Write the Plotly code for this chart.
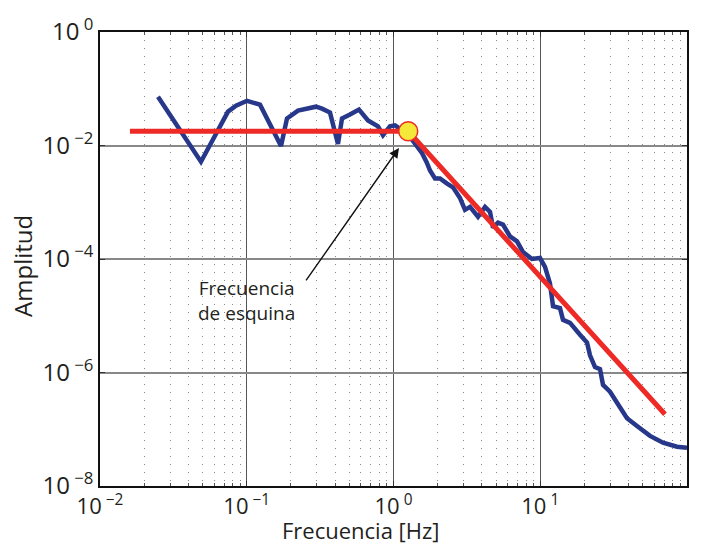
import plotly.graph_objects as go

# Espectro de amplitud observado (frecuencia en Hz, amplitud)
freq = [0.02484, 0.04876, 0.07451, 0.08447, 0.1004, 0.1231, 0.1712, 0.1880,
        0.2234, 0.2698, 0.2963, 0.3257, 0.3693, 0.4184, 0.4457, 0.5052,
        0.5819, 0.6703, 0.7841, 0.8481, 0.9465, 1.0237, 1.1074, 1.2553,
        1.4391, 1.5566, 1.6840, 1.7732, 1.9177, 2.0745, 2.3048, 2.5438,
        2.8395, 3.0708, 3.3208, 3.7650, 4.2030, 4.5467, 4.7643, 5.1532,
        5.5742, 6.2225, 6.9454, 7.6294, 8.7853, 9.9610, 10.775, 11.65,
        12.22, 13.63, 14.29, 15.95, 18.66, 20.83, 21.83, 23.61, 25.54,
        26.77, 29.87, 33.34, 36.64, 39.00, 45.63, 55.97, 68.63, 85.50, 100.0]
amp = [0.07197, 0.005179, 0.03958, 0.05028, 0.06137, 0.05231, 0.009801, 0.02993,
       0.04119, 0.04460, 0.04831, 0.0446, 0.03803, 0.01062, 0.02993, 0.0351,
       0.04285, 0.02764, 0.02176, 0.0152, 0.02176, 0.02265, 0.0193, 0.01582,
       0.009801, 0.007505, 0.005037, 0.003618, 0.00263, 0.00263, 0.002154, 0.001836,
       0.001185, 0.000734, 0.000827, 0.000555, 0.000827, 0.000678, 0.000358, 0.000437,
       0.000404, 0.00025, 0.000205, 0.000132, 0.0001, 0.000104, 7.27e-5, 3.69e-5,
       1.475e-5, 1.362e-5, 8.44e-6, 7.49e-6, 4.64e-6, 3.37e-6, 2.01e-6, 1.245e-6, 1.15e-6,
       6.07e-7, 4.59e-7, 2.85e-7, 2.07e-7, 1.566e-7, 1.138e-7, 7.64e-8, 5.78e-8, 4.93e-8, 4.73e-8]

# Modelo de fuente: nivel plano y caída por encima de la frecuencia de esquina
model_freq = [0.016, 1.26, 70.8]
model_amp = [0.0178, 0.0178, 1.84e-7]
corner_freq = [1.26]
corner_amp = [0.0178]

# Ticks
x_tickvals = [1e-2, 1e-1, 1e0, 1e1, 1e2]
x_ticktext = ["10<sup> −2</sup>", "10<sup> −1</sup>", "10<sup> 0</sup>", "10<sup> 1</sup>", "10<sup> 2</sup>"]
y_tickvals = [1e0, 1e-2, 1e-4, 1e-6, 1e-8]
y_ticktext = ["10<sup> 0</sup>", "10<sup> −2</sup>", "10<sup> −4</sup>", "10<sup> −6</sup>", "10<sup> −8</sup>"]

FONT = "Open Sans"
TEXT = "#231f20"
minor_x = [m * 10.0 ** e for e in range(-2, 2) for m in range(2, 10)]

fig = go.Figure()
fig.add_trace(go.Scatter(x=freq, y=amp, mode="lines",
                         line=dict(color="#27378a", width=4.5), hoverinfo="skip"))
fig.add_trace(go.Scatter(x=model_freq, y=model_amp, mode="lines",
                         line=dict(color="#ee2a26", width=5), hoverinfo="skip"))
fig.add_trace(go.Scatter(x=corner_freq, y=corner_amp, mode="markers",
                         marker=dict(size=19, color="#f6e839",
                                     line=dict(color="#ee2a26", width=1.5)),
                         hoverinfo="skip"))

fig.update_layout(
    width=704, height=546,
    margin=dict(l=100, r=17, t=24, b=60),
    paper_bgcolor="white", plot_bgcolor="white",
    showlegend=False,
    font=dict(family=FONT, size=23, color=TEXT),
)

fig.update_xaxes(
    type="log", range=[-2, 2],
    tickvals=x_tickvals, ticktext=x_ticktext,
    showgrid=True, gridcolor="#555", gridwidth=1.2,
    showline=True, linecolor="#111", linewidth=1.5, mirror="ticks",
    ticks="inside", ticklen=5, tickcolor="#333",
    zeroline=False,
    minor=dict(tickvals=minor_x, showgrid=True, gridcolor="#888",
               griddash="1px,7px", gridwidth=1,
               ticks="inside", ticklen=3, tickcolor="#555"),
    tickfont=dict(family=FONT, size=22, color=TEXT),
)
fig.update_yaxes(
    type="log", range=[-8, 0],
    tickvals=y_tickvals, ticktext=y_ticktext,
    showgrid=True, gridcolor="#888", gridwidth=1.5,
    showline=True, linecolor="#111", linewidth=1.5, mirror="ticks",
    ticks="inside", ticklen=5, tickcolor="#333",
    zeroline=False,
    tickfont=dict(family=FONT, size=24, color=TEXT),
)

# Títulos de ejes
fig.add_annotation(text="Frecuencia [Hz]", xref="paper", yref="paper",
                   x=0.445, y=-0.098, showarrow=False, xanchor="center", yanchor="middle",
                   font=dict(family=FONT, size=22, color=TEXT))
fig.add_annotation(text="Amplitud", xref="paper", yref="paper",
                   x=-0.131, y=0.485, showarrow=False, textangle=-90,
                   xanchor="center", yanchor="middle",
                   font=dict(family=FONT, size=24, color=TEXT))

# Flecha hacia la frecuencia de esquina
fig.add_annotation(x=0.0375, y=-2.043, xref="x", yref="y",
                   ax=-94, ay=134, axref="pixel", ayref="pixel",
                   text="", showarrow=True, arrowhead=2, arrowsize=1.4,
                   arrowwidth=1.4, arrowcolor="#111")
fig.add_annotation(text="Frecuencia<br>de esquina", xref="paper", yref="paper",
                   x=0.2504, y=0.409, showarrow=False, xanchor="center", yanchor="middle",
                   align="center",
                   font=dict(family=FONT, size=19, color=TEXT))

fig.write_html("out.html")
